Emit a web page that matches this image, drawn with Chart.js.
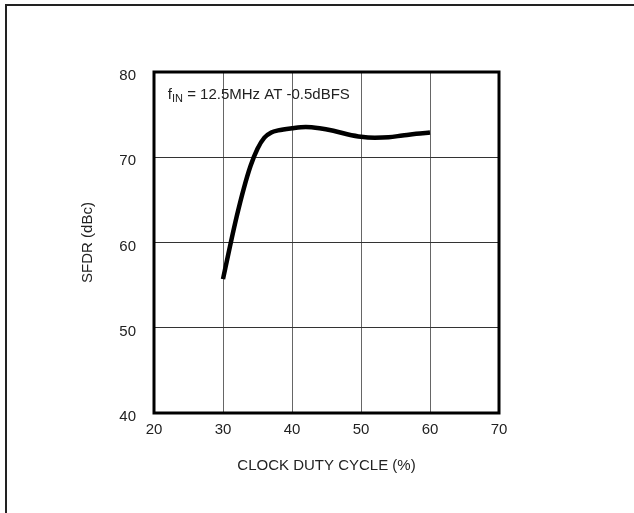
<!DOCTYPE html>
<html>
<head>
<meta charset="utf-8">
<script src="https://cdn.jsdelivr.net/npm/chart.js@4"></script>
<style>
  html, body { margin: 0; padding: 0; background: #fff; }
  #wrap { position: relative; width: 634px; height: 513px; }
  #frame { position: absolute; left: 5px; top: 4px; right: -10px; bottom: -10px;
           border-left: 2px solid #222; border-top: 2px solid #222; }
  canvas { position: absolute; left: 0; top: 0; }
</style>
</head>
<body>
<div id="wrap">
  <div id="frame"></div>
  <canvas id="chart" width="634" height="513"></canvas>
</div>
<script>
// clock duty cycle (%) vs SFDR (dBc)
const dutyCycle = [30, 31, 32, 33, 34, 35, 36, 37, 38, 40, 42, 44, 46, 48, 50, 52, 54, 56, 58, 60];
const sfdr = [55.7, 59.5, 63.1, 66.3, 69.0, 71.0, 72.3, 72.9, 73.15, 73.4, 73.55, 73.4, 73.1, 72.7, 72.4, 72.3, 72.35, 72.55, 72.75, 72.9];

const xTicks = [20, 30, 40, 50, 60, 70];
const yTicks = [40, 50, 60, 70, 80];

const FONT = '"Liberation Sans Narrow", "Liberation Sans", Arial, sans-serif';

// plot frame + f_IN note
const framePlugin = {
    id: 'frame',
    afterDraw(chart) {
        const { ctx, chartArea: a, scales } = chart;
        ctx.save();
        ctx.strokeStyle = '#000';
        ctx.lineWidth = 3;
        ctx.strokeRect(a.left, a.top, a.right - a.left, a.bottom - a.top);

        const x = scales.x.getPixelForValue(22);
        const y = scales.y.getPixelForValue(77.4);
        ctx.fillStyle = '#222';
        ctx.textBaseline = 'alphabetic';
        ctx.font = '15px ' + FONT;
        ctx.fillText('f', x, y + 5);
        let w = ctx.measureText('f').width;
        ctx.font = '11px ' + FONT;
        ctx.fillText('IN', x + w, y + 8);
        w += ctx.measureText('IN').width;
        ctx.font = '15px ' + FONT;
        ctx.fillText(' = 12.5MHz AT -0.5dBFS', x + w, y + 5);
        ctx.restore();
    }
};

const ctx = document.getElementById('chart').getContext('2d');

new Chart(ctx, {
    type: 'line',
    data: {
        datasets: [
            {
                data: dutyCycle.map((d, i) => ({ x: d, y: sfdr[i] })),
                borderColor: '#000',
                borderWidth: 4.5,
                pointRadius: 0,
                cubicInterpolationMode: 'monotone',
                fill: false
            }
        ]
    },
    options: {
        responsive: false,
        animation: false,
        layout: {
            padding: { left: 0, top: 72, right: 135, bottom: 0 }
        },
        plugins: {
            legend: { display: false },
            tooltip: { enabled: false }
        },
        scales: {
            x: {
                type: 'linear',
                min: 20,
                max: 70,
                afterBuildTicks(scale) {
                    scale.ticks = xTicks.map(v => ({ value: v }));
                },
                afterFit(scale) {
                    scale.height = 100;
                },
                grid: { color: '#666', lineWidth: 1, drawTicks: false },
                border: { display: false },
                ticks: {
                    color: '#222',
                    padding: 8,
                    maxRotation: 0,
                    font: { family: FONT, size: 15 }
                },
                title: {
                    display: true,
                    text: 'CLOCK DUTY CYCLE (%)',
                    color: '#222',
                    font: { family: FONT, size: 15 },
                    padding: { top: 0, bottom: 38 }
                }
            },
            y: {
                type: 'linear',
                min: 40,
                max: 80,
                afterBuildTicks(scale) {
                    scale.ticks = yTicks.map(v => ({ value: v }));
                },
                afterFit(scale) {
                    scale.width = 154;
                },
                grid: { color: '#333', lineWidth: 1, drawTicks: false },
                border: { display: false },
                ticks: {
                    color: '#222',
                    padding: 18,
                    labelOffset: 4,
                    font: { family: FONT, size: 15 }
                },
                title: {
                    display: true,
                    text: 'SFDR (dBc)',
                    color: '#222',
                    font: { family: FONT, size: 15 },
                    padding: { top: 79, bottom: 0 }
                }
            }
        }
    },
    plugins: [framePlugin]
});
</script>
</body>
</html>
